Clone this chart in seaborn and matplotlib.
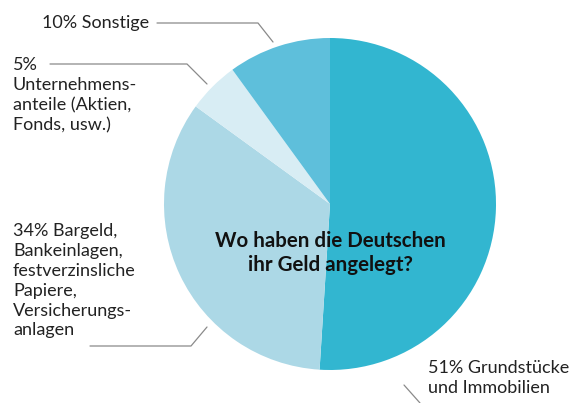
import matplotlib.pyplot as plt
import seaborn as sns

# Anteile (im Uhrzeigersinn ab 12 Uhr)
anteile = [51, 34, 5, 10]
farben = ["#32b6d0", "#acd8e6", "#d8edf4", "#5ebfdb"]
titel = "Wo haben die Deutschen\nihr Geld angelegt?"

sns.set_theme(style="white")
plt.rcParams["font.family"] = ["Lato", "DejaVu Sans"]

fig = plt.figure(figsize=(5.72, 4.03), dpi=100)
ax = fig.add_axes([0, 0, 1, 1])

H = 403
cx, cy, r = 330, H - 204, 166
ax.pie(anteile, colors=farben, startangle=90, counterclock=False,
       center=(cx, cy), radius=r, wedgeprops=dict(linewidth=0))
ax.set_xlim(0, 572)
ax.set_ylim(0, H)
ax.set_aspect("equal")
ax.axis("off")

txt = dict(fontsize=13, color="#222222", linespacing=1.3)
ax.text(42, H - 23, "10% Sonstige", va="center", **txt)
ax.text(13, H - 57, "5%\nUnternehmens-\nanteile (Aktien,\nFonds, usw.)", va="top", **txt)
ax.text(13, H - 223, "34% Bargeld,\nBankeinlagen,\nfestverzinsliche\nPapiere,\nVersicherungs-\nanlagen",
        va="top", **txt)
ax.text(428, H - 360, "51% Grundstücke\nund Immobilien", va="top", **txt)

ax.text(cx, H - 253, titel, ha="center", va="center", fontsize=14.8,
        fontweight="bold", color="#111111", linespacing=1.2)

# Führungslinien
lc = dict(color="#8a8a8a", lw=0.9)
ax.plot([157, 258, 273], [H - 23, H - 23, H - 42], **lc)
ax.plot([50, 187, 207], [H - 64, H - 64, H - 84], **lc)
ax.plot([90, 191, 207], [H - 346, H - 346, H - 327], **lc)
ax.plot([404, 420], [H - 385, H - 403], **lc)

fig.savefig("out.png", dpi=100)
